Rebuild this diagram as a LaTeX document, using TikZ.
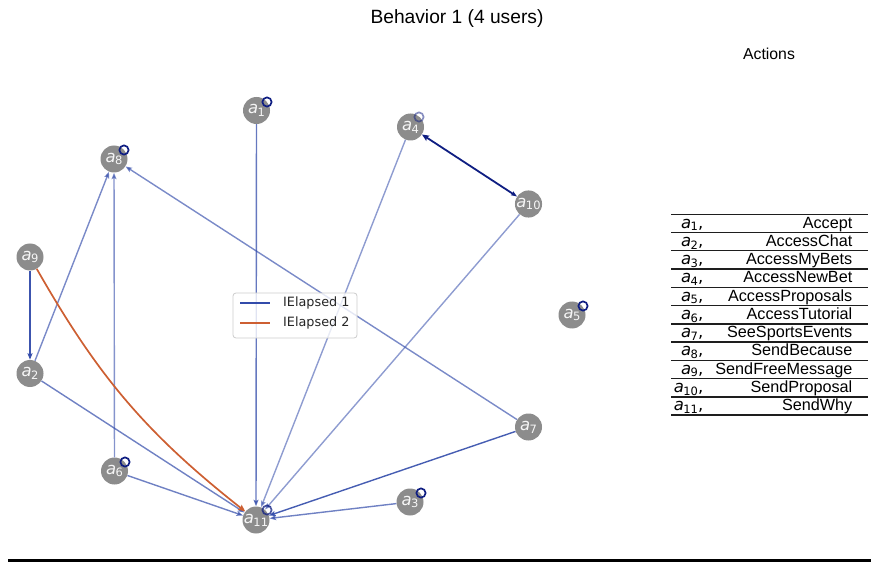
\documentclass[tikz,border=0pt]{standalone}
\usepackage{fontspec}
\setmainfont{Liberation Sans}
\newfontfamily\djv{DejaVu Sans}
\usetikzlibrary{arrows.meta}
\definecolor{nodegray}{RGB}{140,140,140}
\definecolor{eblue}{RGB}{50,75,170}
\definecolor{mynavy}{RGB}{15,30,130}
\definecolor{eorange}{RGB}{205,95,50}
\definecolor{tabline}{RGB}{30,30,30}
\newcommand\albl[1]{{\djv\fontsize{16.5}{16.5}\selectfont\textit{a}\kern-.5pt\raisebox{-2.8pt}{\fontsize{11.5}{11.5}\selectfont #1}}}
\newcommand\tlbl[1]{{\djv\fontsize{16.5}{16.5}\selectfont\textit{a}\kern-.5pt\raisebox{-2.8pt}{\fontsize{11.5}{11.5}\selectfont #1},}}
\begin{document}
\begin{tikzpicture}[x=1pt,y=-1pt,
  act/.style={circle,fill=nodegray,minimum size=27pt,inner sep=0pt,text=white,text opacity=.92},
  edg/.style={eblue,line width=1.4pt,-{Stealth[length=6.5pt,width=5pt,inset=1.2pt]}},
  selfloop/.style={mynavy,line width=1.7pt},
  tabtxt/.style={font=\fontsize{16.2}{16.2}\selectfont,text=black,inner sep=0pt,anchor=base east},
  tabrule/.style={tabline,line width=1.4pt}]
\useasboundingbox (0,0) rectangle (876,564);

% title
\node (title) at (457,19) {\fontsize{19.2}{19.2}\selectfont Behavior 1 (4 users)};
\node (acts) at (769,54) {\fontsize{15.8}{15.8}\selectfont Actions};

% nodes
\node[act] (a1) at (256.5,110.5) {\albl{1}};
\node[act] (a2) at (30,373.5) {\albl{2}};
\node[act] (a3) at (410,502) {\albl{3}};
\node[act] (a4) at (410.5,127) {\albl{4}};
\node[act] (a5) at (572,315) {\albl{5}};
\node[act] (a6) at (114.5,471) {\albl{6}};
\node[act] (a7) at (528.5,427) {\albl{7}};
\node[act] (a8) at (114,159) {\albl{8}};
\node[act] (a9) at (30,257) {\albl{9}};
\node[act] (a10) at (528.5,204) {\albl{10}};
\node[act] (a11) at (256,520) {\albl{11}};

% edges
\draw[edg,opacity=.75] (a1) -- (a11);
\draw[edg,opacity=.95] (a9) -- (a2);
\draw[edg,opacity=.65] (a2) -- (a8);
\draw[edg,opacity=.6] (a6) -- (a8);
\draw[edg,opacity=.65] (a7) -- (a8);
\draw[edg,opacity=.55] (a4) -- (a11);
\draw[edg,opacity=.55] (a10) -- (a11);
\draw[edg,opacity=.9] (a7) -- (a11);
\draw[edg,opacity=.7] (a3) -- (a11);
\draw[edg,opacity=.7] (a2) -- (a11);
\draw[edg,opacity=.7] (a6) -- (a11);
\draw[mynavy,line width=1.8pt,{Stealth[length=7pt,width=6pt,inset=1.2pt]}-{Stealth[length=6pt,width=4.5pt,inset=1.2pt]}] (a4) -- (a10);
\draw[eorange,line width=1.7pt,-{Stealth[length=7pt,width=6pt,inset=1.2pt]}] (a9) to[bend right=11] (a11);

% self loops
\draw[selfloop] ([shift={(10.5,-8.5)}]a1.center) circle (4.6);
\draw[selfloop] ([shift={(10,-9)}]a8.center) circle (4.6);
\draw[selfloop,opacity=.5] ([shift={(8.5,-10)}]a4.center) circle (4.6);
\draw[selfloop] ([shift={(11,-9)}]a5.center) circle (4.6);
\draw[selfloop] ([shift={(10.5,-9)}]a6.center) circle (4.6);
\draw[selfloop] ([shift={(11,-9)}]a3.center) circle (4.6);
\draw[selfloop,opacity=.75] ([shift={(11,-10)}]a11.center) circle (4.6);

% legend
\node[draw=black!20,line width=.8pt,fill=white,fill opacity=.8,rounded corners=3pt,minimum width=124pt,minimum height=45pt,inner sep=0pt] (leg) at (295,315.5) {};
\coordinate (l1a) at (240,303);
\coordinate (l1b) at (270,303);
\coordinate (l2a) at (240,323);
\coordinate (l2b) at (270,323);
\draw[eblue,line width=1.5pt] (l1a) -- (l1b);
\draw[eorange,line width=1.5pt] (l2a) -- (l2b);
\node[anchor=west,inner sep=0pt,font=\djv\fontsize{12.8}{12.8}\selectfont,text=black!85] (lt1) at (283,303) {IElapsed 1};
\node[anchor=west,inner sep=0pt,font=\djv\fontsize{12.8}{12.8}\selectfont,text=black!85] (lt2) at (283,323) {IElapsed 2};

% table
\foreach \k in {0,...,11} {
  \coordinate (tl\k) at (671,214.3+\k*18.25);
  \coordinate (tr\k) at (868,214.3+\k*18.25);
  \draw[tabrule] (tl\k) -- (tr\k);
}
\foreach \k/\name in {1/Accept,2/AccessChat,3/AccessMyBets,4/AccessNewBet,5/AccessProposals,6/AccessTutorial,7/SeeSportsEvents,8/SendBecause,9/SendFreeMessage,10/SendProposal,11/SendWhy} {
  \node[tabtxt] (tk\k) at (703.5,214.3+\k*18.25-4.5) {\tlbl{\k}};
  \node[tabtxt] (tn\k) at (852.5,214.3+\k*18.25-4.5) {\name};
}

% bottom rule
\coordinate (bl) at (8,560.5);
\coordinate (br) at (871,560.5);
\draw[black,line width=3pt] (bl) -- (br);
\end{tikzpicture}
\end{document}
